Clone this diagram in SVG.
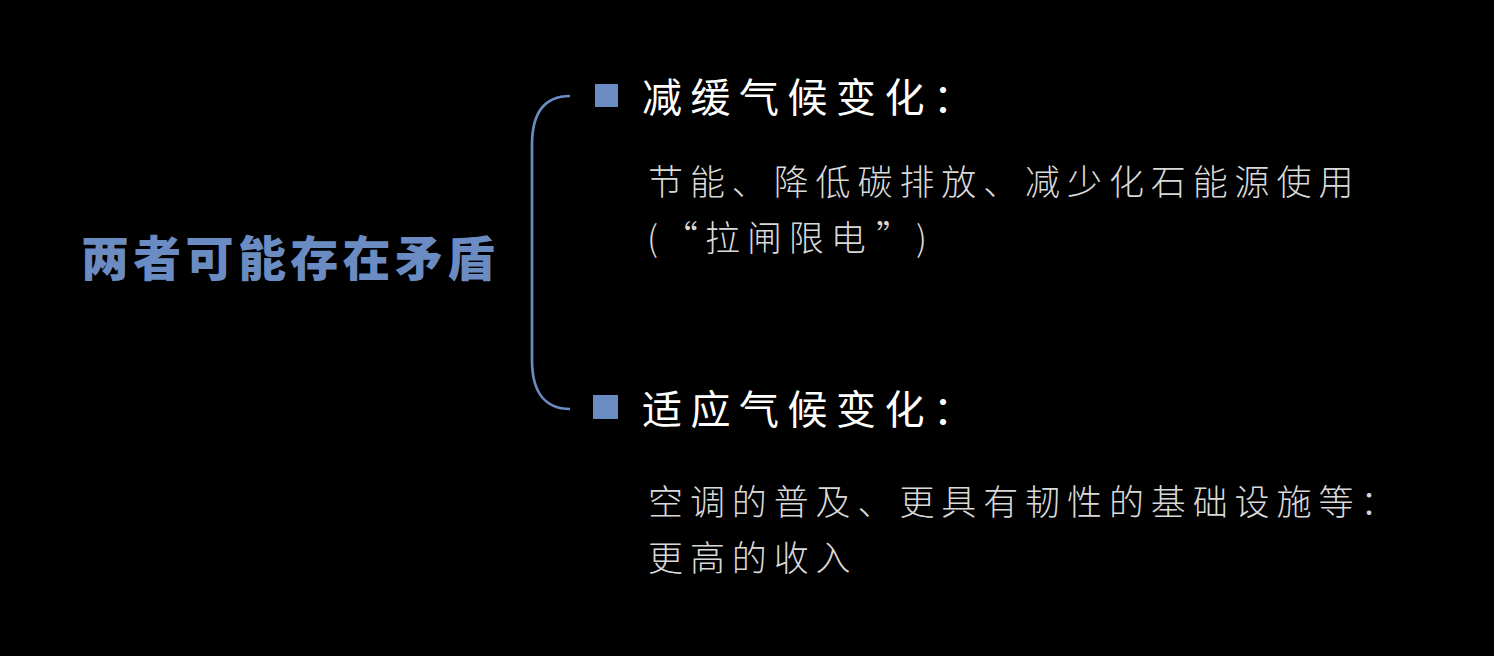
<svg xmlns="http://www.w3.org/2000/svg" width="1494" height="656" viewBox="0 0 1494 656">
<style>
.title{font-family:"Noto Sans CJK SC",sans-serif;font-weight:900;font-size:48px;fill:#6b8cc2;letter-spacing:4.3px}
.head{font-family:"Noto Sans CJK SC",sans-serif;font-weight:400;font-size:40px;fill:#ffffff;letter-spacing:8.5px}
.body{font-family:"Noto Sans CJK SC",sans-serif;font-weight:300;font-size:35px;fill:#d9d9d9;letter-spacing:6.9px}
.bullet{fill:#6b8cc2}
.brace{fill:none;stroke:#6b8cc2;stroke-width:2.7}
</style>
<rect width="1494" height="656" fill="#000000"/>
<g id="root">
<text class="title" x="81" y="276">两者可能存在矛盾</text>
</g>
<g id="connectors">
<path class="brace" d="M570 96 C545 96 532 112 532 145 L532 360 C532 392 545 409 570 409"/>
</g>
<g id="mitigation">
<rect class="bullet" x="595" y="84" width="23" height="23"/>
<text class="head" x="642" y="112">减缓气候变化：</text>
<text class="body" x="648" y="195">节能、降低碳排放、减少化石能源使用</text>
<text class="body" y="251"><tspan x="647">(</tspan><tspan x="663">“</tspan><tspan x="705">拉闸限电</tspan><tspan x="876">”</tspan><tspan x="916">)</tspan></text>
</g>
<g id="adaptation">
<rect class="bullet" x="593" y="395" width="25" height="24"/>
<text class="head" x="642" y="424">适应气候变化：</text>
<text class="body" x="648" y="515">空调的普及、更具有韧性的基础设施等：</text>
<text class="body" x="648" y="571">更高的收入</text>
</g>
</svg>
